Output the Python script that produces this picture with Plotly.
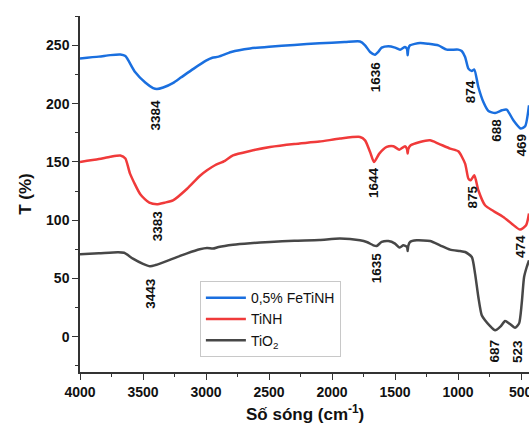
import plotly.graph_objects as go

# ---- data ----
wn_fetinh = [4000, 3850, 3760, 3680, 3640, 3563, 3480, 3420, 3390, 3340, 3260, 3200, 3100, 3000, 2950, 2900,
             2800, 2650, 2500, 2300, 2100, 1900, 1778, 1738, 1698, 1659, 1630, 1606, 1553, 1500, 1460, 1421,
             1405, 1400, 1395, 1381, 1302, 1236, 1156, 1090, 998, 971, 944, 918, 891, 871, 839, 799, 759,
             706, 650, 614, 561, 503, 468, 437]
t_fetinh = [239, 240.5, 241.8, 242.3, 241, 227.3, 218, 213.5, 212.7, 214, 218, 222.5, 230, 237, 239.5, 240.5,
            244.5, 247.5, 249, 250.5, 252, 253, 253.5, 250.2, 244.5, 242.2, 245, 248.2, 249.4, 248.2, 246.5, 248.8,
            247, 241.6, 247, 250.2, 252.2, 251.6, 250.2, 246.5, 246.5, 245.3, 240.2, 230.2, 228.2, 229.4, 214.4, 201.5, 193.8,
            192.1, 194.5, 195, 185.8, 178.7, 180.6, 198.7]

wn_tinh = [4000, 3850, 3760, 3680, 3640, 3603, 3520, 3450, 3390, 3330, 3262, 3150, 3050, 2992, 2929, 2850,
           2786, 2650, 2492, 2300, 2100, 1937, 1778, 1738, 1698, 1667, 1625, 1566, 1513, 1466, 1421, 1405,
           1400, 1395, 1376, 1302, 1222, 1156, 1063, 998, 944, 918, 900, 871, 839, 786, 720, 641, 574,
           508, 460, 437]
t_tinh = [150, 152.5, 154.5, 155.6, 153, 140, 122, 115, 113.6, 115, 117, 127, 138, 142.9, 147.2, 151,
          155.7, 159.5, 162.9, 165.5, 167.5, 170.1, 171.5, 168.6, 158.6, 150, 157.2, 162.9, 163.5, 160.6, 163.5, 161,
          157.2, 161, 164.3, 167.2, 168.6, 165.8, 161.5, 159.2, 148.6, 135.7, 134.3, 138.6, 125.7, 112.8, 107.9, 102.7, 97,
          91.9, 95.6, 105.7]

wn_tio2 = [4000, 3850, 3700, 3650, 3580, 3500, 3444, 3400, 3262, 3150, 3050, 2992, 2944, 2900, 2786, 2650,
           2492, 2300, 2100, 1937, 1778, 1725, 1672, 1646, 1606, 1553, 1500, 1466, 1434, 1405, 1400, 1395,
           1381, 1328, 1222, 1143, 1063, 984, 944, 891, 865, 839, 812, 786, 751, 706, 660, 627, 590,
           548, 516, 495, 476, 455, 437]
t_tio2 = [70.7, 71.5, 72.4, 72, 67, 62.5, 60.4, 61.5, 67, 71.5, 75, 76.1, 75.6, 77, 79, 80.3,
          81.3, 82.3, 83, 84.2, 82.7, 81.3, 78.4, 77.8, 81.3, 82.1, 79.9, 76.5, 78.4, 77, 73.5, 78,
          81.3, 82.7, 82.1, 78.4, 74.7, 73.5, 72.7, 68.4, 54.1, 34, 18.3, 14, 9.7, 5.4, 9, 13.4, 11,
          7.7, 11.2, 28.3, 51.2, 59.8, 65.5]

series_names = ["0,5% FeTiNH", "TiNH", "TiO<sub>2</sub>"]
series_colors = ["#1a6fdf", "#f03a3a", "#474747"]

# peak labels: (wavenumber, y-centre, text)
peak_wn = [3400, 1660, 905, 695, 500, 3390, 1665, 893, 500, 3440, 1648, 712, 530]
peak_y = [190.5, 223.6, 210, 177.2, 164.3, 95.6, 132.1, 119.9, 77, 37.2, 59.1, -12.5, -13]
peak_txt = ["3384", "1636", "874", "688", "469", "3383", "1644", "875", "474", "3443", "1635", "687", "523"]

x_ticks = [4000, 3500, 3000, 2500, 2000, 1500, 1000, 500]
y_ticks = [0, 50, 100, 150, 200, 250]

FONT = "Liberation Sans, Arial, sans-serif"
TICKFONT = dict(family=FONT, size=14, color="#111111", weight="bold")

fig = go.Figure()
for wn, t, name, col in zip([wn_fetinh, wn_tinh, wn_tio2], [t_fetinh, t_tinh, t_tio2], series_names, series_colors):
    fig.add_trace(go.Scatter(x=wn, y=t, mode="lines", name=name,
                             line=dict(color=col, width=2.5, shape="spline", smoothing=0.6)))

for w, y, s in zip(peak_wn, peak_y, peak_txt):
    fig.add_annotation(x=w, y=y, text=s, textangle=-90, showarrow=False,
                       font=dict(family=FONT, size=13.5, color="#111111", weight="bold"))

# the last x tick label sits on the window edge (plotly drops it), so draw it as an annotation
x_ticktext = [str(v) for v in x_ticks[:-1]] + [""]
fig.add_annotation(x=x_ticks[-1], xref="x", yref="paper", y=-0.055, yanchor="middle", xanchor="center",
                   text=str(x_ticks[-1]), showarrow=False, font=TICKFONT)

# axis titles as annotations for precise placement
fig.add_annotation(xref="paper", yref="paper", x=0.502, y=-0.115, yanchor="middle", xanchor="center",
                   text="Số sóng (cm<sup>-1</sup>)", showarrow=False,
                   font=dict(family=FONT, size=17, color="#111111", weight="bold"))
fig.add_annotation(xref="paper", yref="paper", x=-0.123, y=0.5, xanchor="center", yanchor="middle",
                   text="T (%)", textangle=-90, showarrow=False,
                   font=dict(family=FONT, size=17, color="#111111", weight="bold"))

axis_common = dict(showline=True, linecolor="#333333", linewidth=1.5, ticks="outside", ticklen=6,
                   tickwidth=1.3, tickcolor="#333333", showgrid=False, zeroline=False, mirror=False,
                   automargin=False, tickfont=TICKFONT)

fig.update_layout(
    width=529, height=430,
    margin=dict(l=80, r=0, t=16, b=58),
    paper_bgcolor="white", plot_bgcolor="white",
    showlegend=True,
    legend=dict(x=0.267, y=0.255, xanchor="left", yanchor="top",
                bgcolor="white", bordercolor="#c8c8c8", borderwidth=1,
                font=dict(family=FONT, size=14, color="#111111"),
                itemwidth=40, tracegroupgap=0),
    xaxis=dict(range=[4000, 437], tickvals=x_ticks, ticktext=x_ticktext,
               minor=dict(ticks="outside", ticklen=3, dtick=250, tick0=0, tickcolor="#333333", tickwidth=1.2),
               **axis_common),
    yaxis=dict(range=[-30.4, 275.4], tickvals=y_ticks, ticktext=[str(v) for v in y_ticks],
               minor=dict(ticks="outside", ticklen=3, dtick=25, tick0=0, tickcolor="#333333", tickwidth=1.2),
               **axis_common),
)

# remove the page's default body margin so the 529x430 figure fills the window exactly
fig.write_html("out.html",
               config={"displayModeBar": False},
               post_script="document.body.style.margin='0';"
                           "document.body.style.overflow='hidden';"
                           "document.documentElement.style.overflow='hidden';")
